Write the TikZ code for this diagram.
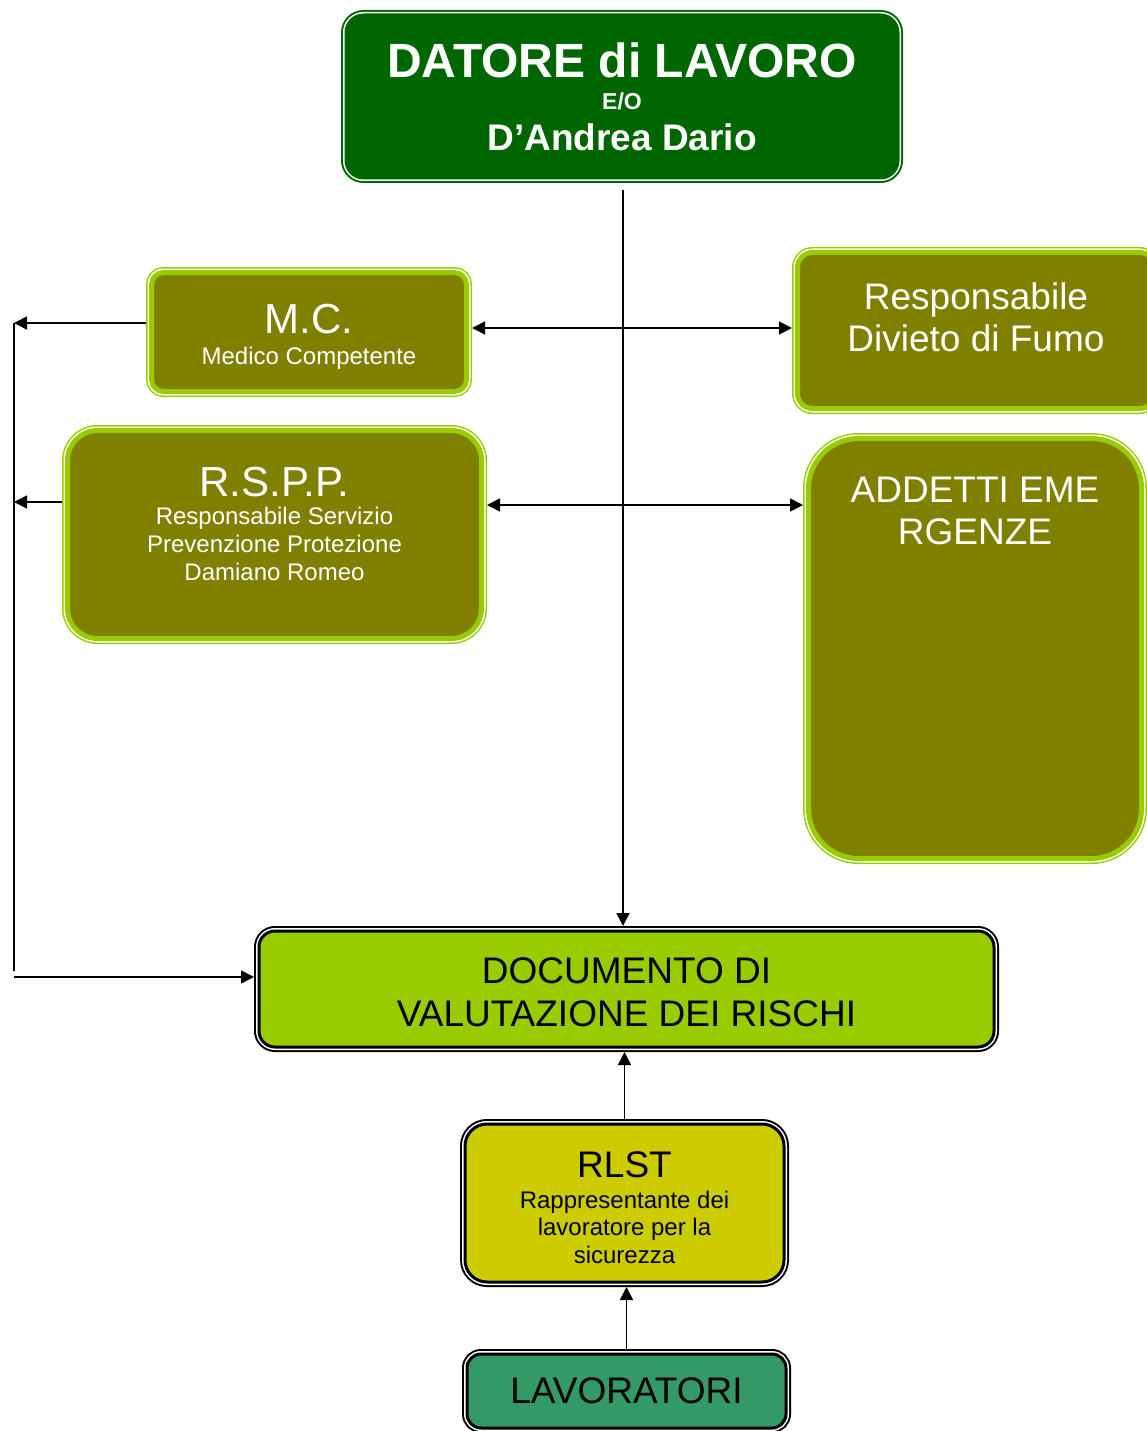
\documentclass[tikz,border=0pt]{standalone}
\usepackage{fontspec}
\setmainfont{Liberation Sans}
\usetikzlibrary{arrows.meta}
\definecolor{dgreen}{HTML}{006600}
\definecolor{olivef}{HTML}{808000}
\definecolor{lgreen}{HTML}{99CC00}
\definecolor{rlstf}{HTML}{CCCC00}
\definecolor{lavf}{HTML}{339966}
\tikzset{
  basebox/.style={rectangle, inner sep=0pt, align=flush center, font=\normalfont,
     execute at begin node={\spaceskip=0pt\xspaceskip=0pt\relax}},
  topbox/.style={basebox, rounded corners=#1, fill=dgreen, draw=dgreen, line width=4pt,
     preaction={draw=dgreen, line width=11pt}, preaction={draw=white, line width=7pt},
     outer sep=5.5pt, text=white},
  olivebox/.style={basebox, rounded corners=#1, fill=olivef, draw=lgreen, line width=5pt,
     preaction={draw=lgreen, line width=11pt}, preaction={draw=white, line width=8pt},
     outer sep=5.5pt, text=white},
  blackbox/.style 2 args={basebox, rounded corners=#1, fill=#2, draw=black, line width=3pt,
     preaction={draw=black, line width=10pt}, preaction={draw=white, line width=6pt},
     outer sep=5pt, text=black},
  conn/.style={line width=1.6pt, -{Triangle[length=13pt,width=13pt]}},
  conntwo/.style={line width=1.6pt, {Triangle[length=13pt,width=13pt]}-{Triangle[length=13pt,width=13pt]}},
  plainline/.style={line width=1.6pt},
}
\begin{document}
\begin{tikzpicture}[x=1pt,y=-1pt]
\useasboundingbox (0,0) rectangle (1147,1431);
\clip (0,0) rectangle (1147,1431);

\node[topbox=17pt, minimum width=551pt, minimum height=162pt, text width=530pt] (top) at (622,96.5)
 {{\fontsize{48}{48}\selectfont\bfseries DATORE di LAVORO\rule[-2pt]{0pt}{2pt}\par}
  {\fontsize{23}{32}\selectfont\bfseries E/O\par}
  {\fontsize{37}{41}\selectfont\bfseries D’Andrea Dario\par}};

\node[olivebox=12pt, minimum width=315pt, minimum height=119pt, text width=300pt] (mc) at (309,332)
 {{\fontsize{42}{42}\selectfont M.C.\rule{0pt}{39pt}\par}
  {\fontsize{24}{31}\selectfont Medico Competente\par}};

\node[olivebox=15pt, minimum width=357pt, minimum height=156pt, text width=340pt] (rdf) at (976,330.5)
 {{\fontsize{37}{42}\selectfont Responsabile\par Divieto di Fumo\rule[-26pt]{0pt}{26pt}\par}};

\node[olivebox=30pt, minimum width=414pt, minimum height=208pt, text width=400pt] (rspp) at (274.5,534.5)
 {{\fontsize{42}{42}\selectfont R.S.P.P.\par}
  {\fontsize{24}{28}\selectfont Responsabile Servizio\par Prevenzione Protezione\par Damiano Romeo\rule[-22pt]{0pt}{22pt}\par}};

\node[olivebox=50pt, minimum width=333pt, minimum height=420pt, text width=320pt] (add) at (975,648.5)
 {{\fontsize{37}{42}\selectfont ADDETTI EME\par RGENZE\rule[-275pt]{0pt}{275pt}\par}};

\node[blackbox={16pt}{lgreen}, minimum width=735pt, minimum height=116pt, text width=720pt] (dvr) at (626.5,989)
 {{\fontsize{37}{43}\selectfont DOCUMENTO DI\rule{0pt}{32.5pt}\par VALUTAZIONE DEI RISCHI\par}};

\node[blackbox={22pt}{rlstf}, minimum width=319pt, minimum height=158pt, text width=300pt] (rlst) at (624.5,1203)
 {{\fontsize{37}{37}\selectfont RLST\rule{0pt}{34.5pt}\par}
  {\fontsize{24}{31}\selectfont Rappresentante dei\par}
  {\fontsize{24}{27.5}\selectfont lavoratore per la\par sicurezza\par}};

\node[blackbox={14pt}{lavf}, minimum width=319pt, minimum height=74pt, text width=300pt] (lav) at (626.5,1391)
 {{\fontsize{37}{37}\selectfont LAVORATORI\par}};

% connectors
\coordinate (vtop) at (623,190);
\draw[conn] (vtop) -- (vtop |- dvr.north);
\draw[conntwo] (mc.east |- 0,328) -- (rdf.west |- 0,328);
\draw[conntwo] (rspp.east |- 0,505) -- (add.west |- 0,505);

\coordinate (b1) at (14,323);
\coordinate (b2) at (14,502);
\coordinate (b3) at (14,971);
\coordinate (b4) at (14,977);
\draw[conn] (mc.west |- b1) -- (b1);
\draw[conn] (rspp.west |- b2) -- (b2);
\draw[plainline] (b1) -- (b3);
\draw[conn] (b4) -- (dvr.west |- b4);

\draw[conn] (rlst.north) -- (rlst.north |- dvr.south);
\draw[conn] (lav.north) -- (lav.north |- rlst.south);
\end{tikzpicture}
\end{document}
